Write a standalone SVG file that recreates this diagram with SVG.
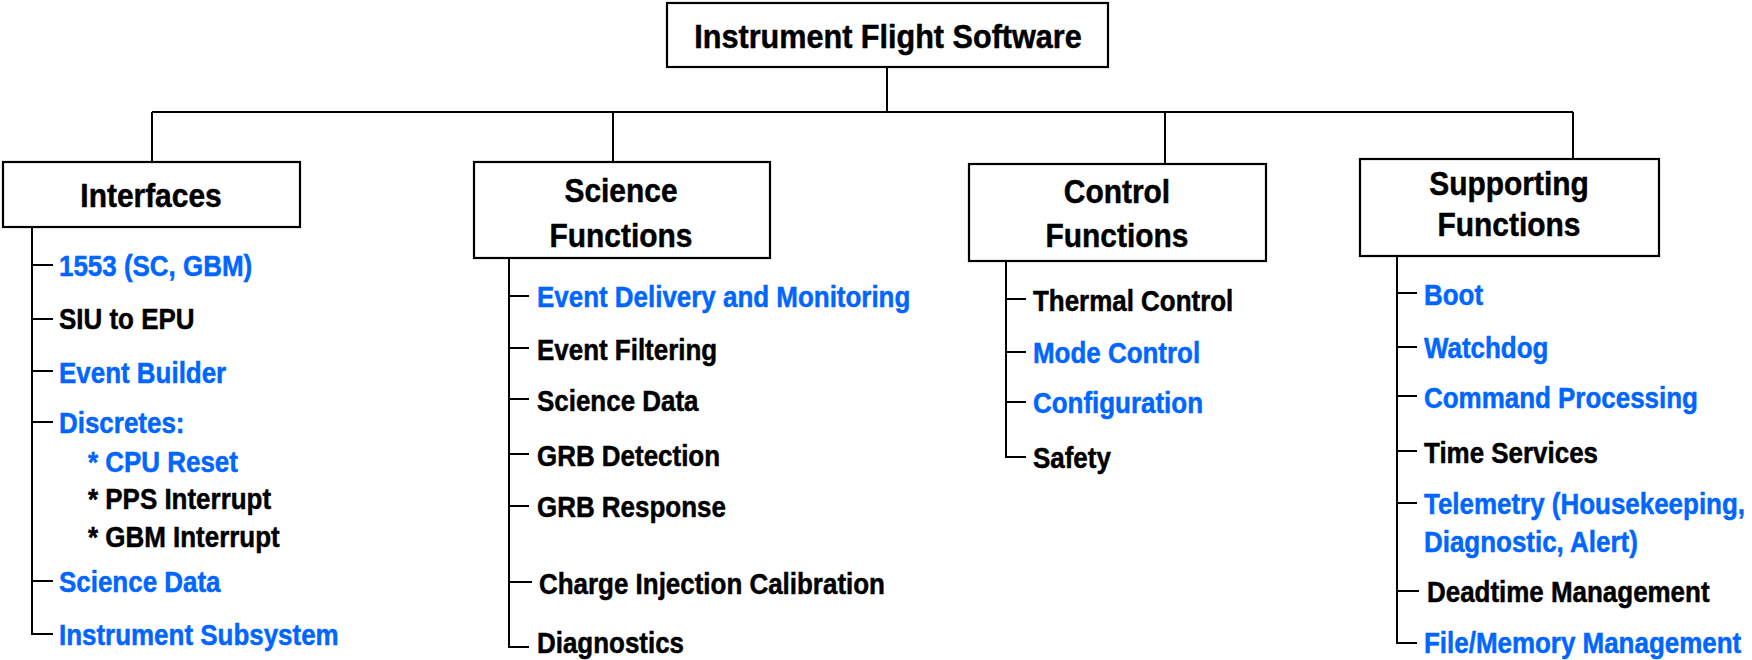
<svg xmlns="http://www.w3.org/2000/svg" width="1752" height="660" viewBox="0 0 1752 660">
<style>
.t{font-family:"Liberation Sans",Arial,sans-serif;font-weight:bold;font-size:29.5px;stroke-width:0.5px}
.h{font-size:34px;text-anchor:middle}
.bl{fill:#0066ff;stroke:#0066ff}
.k{fill:#000;stroke:#000}
.box{fill:#fff;stroke:#000;stroke-width:2.2}
.ln{stroke:#000;stroke-width:2;fill:none}
</style>
<rect width="1752" height="660" fill="#fff"/>
<g id="connectors">
<path class="ln" d="M887 67V112M152 112H1573M152 112V162M613 112V162M1165 112V164M1573 112V159"/>
<path class="ln" d="M32 227V634H53M32 265H53M32 319H53M32 371H53M32 422H53M32 581H53"/>
<path class="ln" d="M509 258V647H529M509 296H529M509 348H529M509 399H529M509 454H529M509 506H529M509 582H532"/>
<path class="ln" d="M1006 261V457H1026M1006 299H1026M1006 352H1026M1006 402H1026"/>
<path class="ln" d="M1397 256V643H1417M1397 293H1417M1397 347H1417M1397 396H1417M1397 451H1417M1397 503H1417M1397 591H1419"/>
</g>
<g id="root">
<rect class="box" x="667" y="3" width="441" height="64"/>
<text class="t h k" transform="translate(888 48) scale(0.9 1)">Instrument Flight Software</text>
</g>
<g id="interfaces">
<rect class="box" x="3" y="162" width="297" height="65"/>
<text class="t h k" transform="translate(151 207) scale(0.88 1)">Interfaces</text>
</g>
<g id="science">
<rect class="box" x="474" y="162" width="296" height="96"/>
<text class="t h k" transform="translate(621 202) scale(0.88 1)">Science</text>
<text class="t h k" transform="translate(621 247) scale(0.88 1)">Functions</text>
</g>
<g id="control">
<rect class="box" x="969" y="164" width="297" height="97"/>
<text class="t h k" transform="translate(1117 203) scale(0.88 1)">Control</text>
<text class="t h k" transform="translate(1117 247) scale(0.88 1)">Functions</text>
</g>
<g id="supporting">
<rect class="box" x="1360" y="159" width="299" height="97"/>
<text class="t h k" transform="translate(1509 195) scale(0.88 1)">Supporting</text>
<text class="t h k" transform="translate(1509 236) scale(0.88 1)">Functions</text>
</g>
<g id="if-1553"><text class="t bl" transform="translate(59 276) scale(0.88 1)">1553 (SC, GBM)</text></g>
<g id="if-siu"><text class="t k" transform="translate(59 329) scale(0.88 1)">SIU to EPU</text></g>
<g id="if-eb"><text class="t bl" transform="translate(59 383) scale(0.88 1)">Event Builder</text></g>
<g id="if-disc">
<text class="t bl" transform="translate(59 433) scale(0.88 1)">Discretes:</text>
<text class="t bl" transform="translate(88 472) scale(0.88 1)">* CPU Reset</text>
<text class="t k" transform="translate(88 509) scale(0.88 1)">* PPS Interrupt</text>
<text class="t k" transform="translate(88 547) scale(0.88 1)">* GBM Interrupt</text>
</g>
<g id="if-sd"><text class="t bl" transform="translate(59 592) scale(0.88 1)">Science Data</text></g>
<g id="if-is"><text class="t bl" transform="translate(59 645) scale(0.88 1)">Instrument Subsystem</text></g>
<g id="sf-edm"><text class="t bl" transform="translate(537 307) scale(0.88 1)">Event Delivery and Monitoring</text></g>
<g id="sf-ef"><text class="t k" transform="translate(537 360) scale(0.88 1)">Event Filtering</text></g>
<g id="sf-sd"><text class="t k" transform="translate(537 411) scale(0.88 1)">Science Data</text></g>
<g id="sf-grbd"><text class="t k" transform="translate(537 466) scale(0.88 1)">GRB Detection</text></g>
<g id="sf-grbr"><text class="t k" transform="translate(537 517) scale(0.88 1)">GRB Response</text></g>
<g id="sf-cic"><text class="t k" transform="translate(539 594) scale(0.88 1)">Charge Injection Calibration</text></g>
<g id="sf-diag"><text class="t k" transform="translate(537 653) scale(0.88 1)">Diagnostics</text></g>
<g id="cf-tc"><text class="t k" transform="translate(1033 311) scale(0.88 1)">Thermal Control</text></g>
<g id="cf-mc"><text class="t bl" transform="translate(1033 363) scale(0.88 1)">Mode Control</text></g>
<g id="cf-cfg"><text class="t bl" transform="translate(1033 413) scale(0.88 1)">Configuration</text></g>
<g id="cf-saf"><text class="t k" transform="translate(1033 468) scale(0.88 1)">Safety</text></g>
<g id="su-boot"><text class="t bl" transform="translate(1424 305) scale(0.88 1)">Boot</text></g>
<g id="su-wd"><text class="t bl" transform="translate(1424 358) scale(0.88 1)">Watchdog</text></g>
<g id="su-cp"><text class="t bl" transform="translate(1424 408) scale(0.88 1)">Command Processing</text></g>
<g id="su-ts"><text class="t k" transform="translate(1424 463) scale(0.88 1)">Time Services</text></g>
<g id="su-tm">
<text class="t bl" transform="translate(1424 514) scale(0.88 1)">Telemetry (Housekeeping,</text>
<text class="t bl" transform="translate(1424 552) scale(0.88 1)">Diagnostic, Alert)</text>
</g>
<g id="su-dm"><text class="t k" transform="translate(1427 602) scale(0.88 1)">Deadtime Management</text></g>
<g id="su-fm"><text class="t bl" transform="translate(1424 653) scale(0.88 1)">File/Memory Management</text></g>
</svg>
